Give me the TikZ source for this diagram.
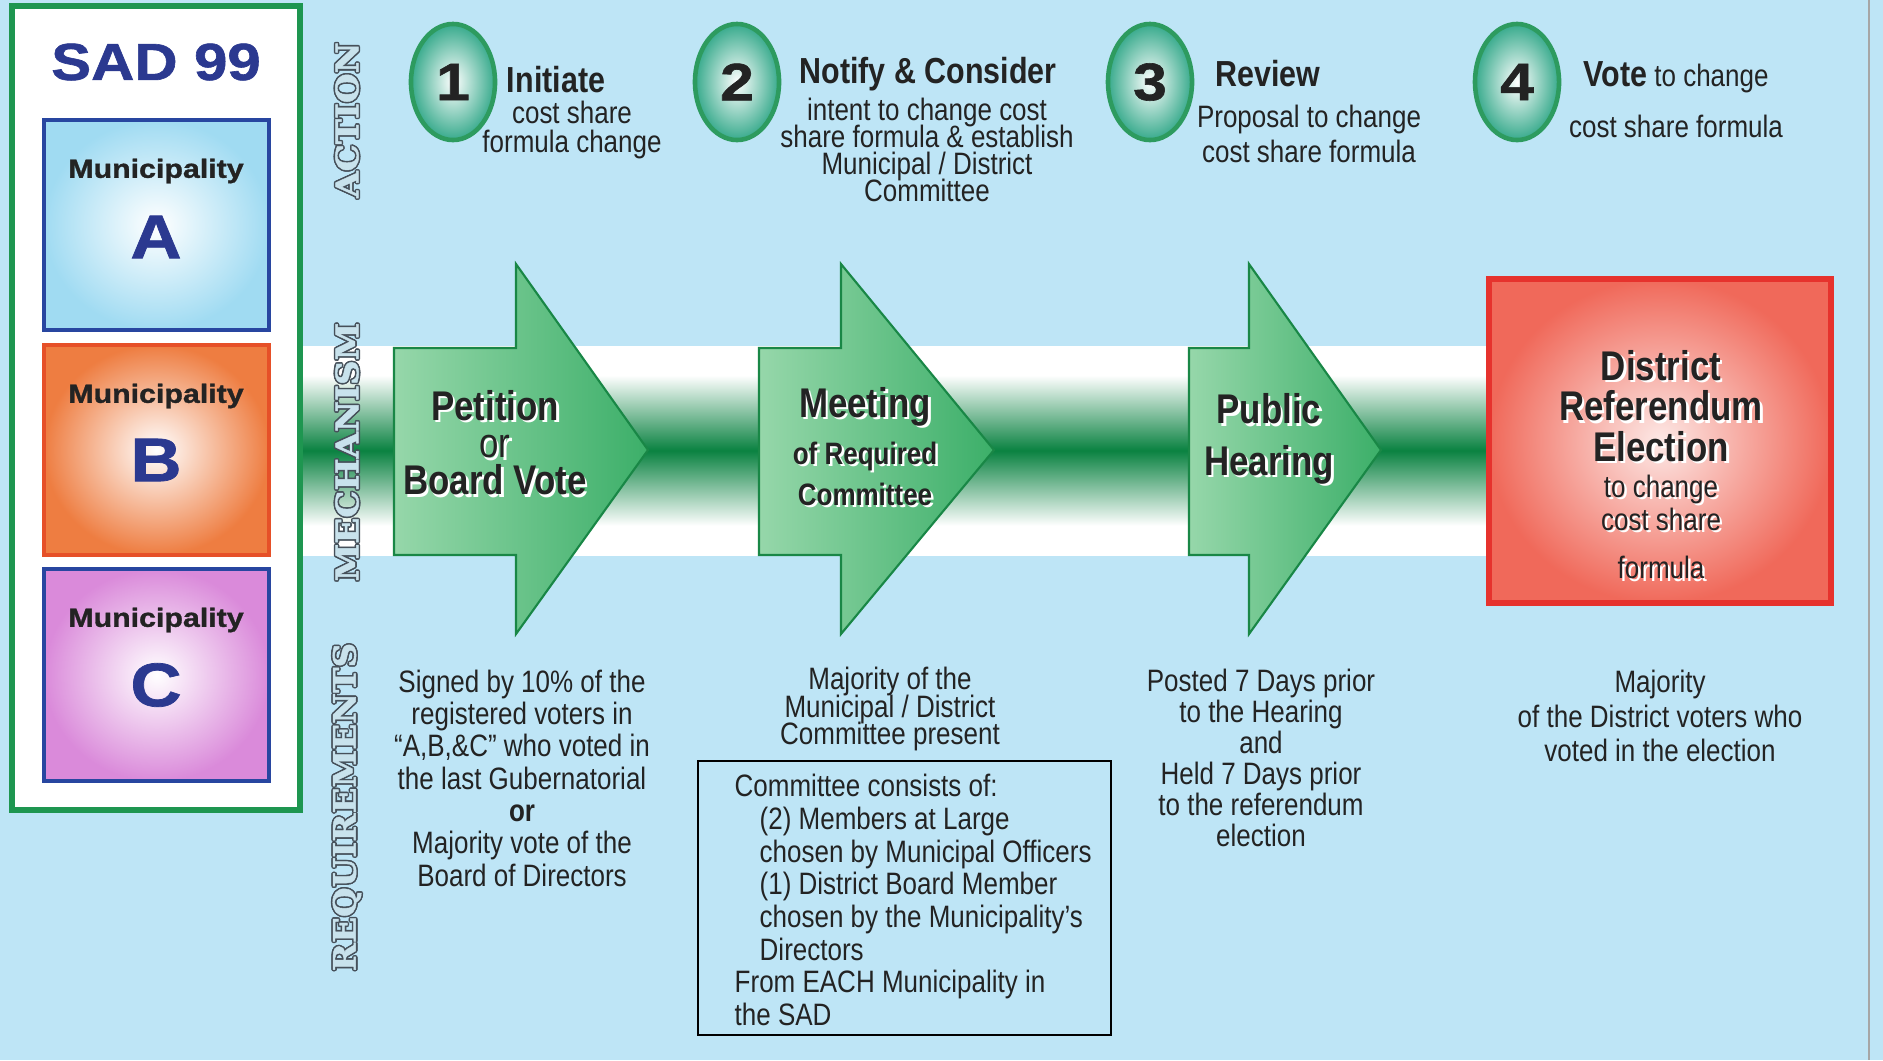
\documentclass[tikz,border=0pt]{standalone}
\usepackage{fontspec}
\setmainfont{Liberation Sans}[FakeStretch=0.84]
\newfontfamily\widefont{Liberation Sans}[FakeStretch=1.15,FakeBold=1.2]
\newfontfamily\sidefont{DejaVu Serif}[FakeStretch=1.1,FakeBold=1.5]
\usepackage{tikz}
\usetikzlibrary{shapes.geometric}

\definecolor{bgblue}{RGB}{190,229,246}
\definecolor{ink}{RGB}{35,35,35}
\definecolor{navy}{RGB}{43,57,144}
\definecolor{panelgreen}{RGB}{30,150,80}
\definecolor{muniblue}{RGB}{40,70,160}
\definecolor{muniAfill}{RGB}{160,219,242}
\definecolor{muniBedge}{RGB}{230,80,40}
\definecolor{muniBfill}{RGB}{238,125,65}
\definecolor{muniCfill}{RGB}{218,138,218}
\definecolor{rededge}{RGB}{230,50,45}
\definecolor{redfill}{RGB}{240,105,90}
\definecolor{ovalgreen}{RGB}{45,155,95}
\definecolor{ovalteal}{RGB}{55,170,140}
\definecolor{arrowedge}{RGB}{25,135,70}
\definecolor{arrowlight}{RGB}{150,215,170}
\definecolor{arrowgreen}{RGB}{60,175,105}
\definecolor{bandgreen}{RGB}{10,130,65}
\definecolor{sidegray}{RGB}{70,80,90}
\definecolor{hollowfill}{RGB}{200,226,236}

\pgfdeclareverticalshading{greenband}{100bp}{color(0bp)=(white); color(25bp)=(white);
  color(32bp)=(white); color(50bp)=(bandgreen); color(68bp)=(white); color(75bp)=(white);
  color(100bp)=(white)}

% keep the baselines fixed even when lines nearly touch
\newcommand{\tightlines}{\lineskiplimit=-10pt\relax}
% white drop shadow behind a line of text
\newcommand{\shadowed}[1]{\makebox[0pt][l]{\hspace{0.7pt}\raisebox{-0.7pt}{\color{white}#1}}#1}
% outlined capitals for the row labels
\newcommand{\hollowcopy}[3]{\rlap{\hspace*{#1}\raisebox{#2}{\textcolor{sidegray}{#3}}}}
\newcommand{\hollow}[1]{\hollowcopy{-.45pt}{0pt}{#1}\hollowcopy{.45pt}{0pt}{#1}%
  \hollowcopy{0pt}{.45pt}{#1}\hollowcopy{0pt}{-.45pt}{#1}%
  \hollowcopy{-.32pt}{.32pt}{#1}\hollowcopy{.32pt}{.32pt}{#1}%
  \hollowcopy{-.32pt}{-.32pt}{#1}\hollowcopy{.32pt}{-.32pt}{#1}%
  \textcolor{hollowfill}{#1}}

\begin{document}
\begin{tikzpicture}[x=0.01cm,y=-0.01cm,
	body/.style={font=\fontsize{8.8}{#1}\selectfont\tightlines, align=center, inner sep=0pt, text=ink},
	body/.default=9.2,
	heading/.style={font=\bfseries\fontsize{10.3}{11}\selectfont, inner sep=0pt, text=ink},
	mech/.style={font=\bfseries\fontsize{11.8}{#1}\selectfont\tightlines, align=center, inner sep=0pt, text=ink},
	mech/.default=10.6,
	numoval/.style={ellipse, draw=ovalgreen, line width=1.3pt, inner color=white, outer color=ovalteal,
		minimum width=0.84cm, minimum height=1.16cm, inner sep=0pt, text=ink,
		font=\widefont\bfseries\fontsize{15}{15}\selectfont},
	munibox/.style={line width=1.2pt, inner color=white},
	muniname/.style={font=\widefont\bfseries\fontsize{7.5}{8}\selectfont, text=ink, inner sep=0pt},
	munilet/.style={font=\widefont\bfseries\fontsize{17.5}{18}\selectfont, text=navy, inner sep=0pt},
	arrowbox/.style={draw=arrowedge, line width=0.6pt, left color=arrowlight, right color=arrowgreen},
	sidetext/.style={rotate=90, inner sep=0pt, font=\sidefont\bfseries\fontsize{8.8}{9}\selectfont}]
	\useasboundingbox (0,0) rectangle (1883,1060);

	%background
	\fill[bgblue] (0,0) rectangle (1883,1060);
	\draw[gray!70, line width=0.4pt] (1869,0) -- (1869,1060);

	%mechanism band
	\shade[shading=greenband] (300,346) rectangle (1489,555);

	%left panel
	\draw[panelgreen, line width=1.5pt, fill=white] (12,6) rectangle (300,810);
	\node[font=\widefont\bfseries\fontsize{14.8}{15}\selectfont, text=navy, inner sep=0pt] (sad) at (156,62) {SAD 99};
	\shade[munibox, draw=muniblue, outer color=muniAfill] (44,120) rectangle (269,330);
	\shade[munibox, draw=muniBedge, outer color=muniBfill] (44,345) rectangle (269,555);
	\shade[munibox, draw=muniblue, outer color=muniCfill] (44,569) rectangle (269,781);
	\node[muniname] (muniA) at (156,171) {Municipality};
	\node[munilet] (letA) at (156,237) {A};
	\node[muniname] (muniB) at (156,396) {Municipality};
	\node[munilet] (letB) at (156,460) {B};
	\node[muniname] (muniC) at (156,620) {Municipality};
	\node[munilet] (letC) at (156,685) {C};

	%row labels
	\node[sidetext] (action) at (347,120) {\hollow{ACTION}};
	\node[sidetext] (mechanism) at (347,452) {\hollow{MECHANISM}};
	\node[sidetext] (requirements) at (347,807) {\hollow{REQUIREMENTS}};

	%action row
	\node[numoval] (one) at (453,82) {1};
	\node[heading] (initiate) at (556,80) {Initiate};
	\node[body=8.2] (initiatetxt) at (572,130) {cost share\\formula change};
	%
	\node[numoval] (two) at (737,82) {2};
	\node[heading] (notify) at (928,74) {Notify \& Consider};
	\node[body=7.6] (notifytxt) at (927,150) {intent to change cost\\share formula \& establish\\Municipal / District\\Committee};
	%
	\node[numoval] (three) at (1150,82) {3};
	\node[heading] (review) at (1268,74) {Review};
	\node[body=9.9] (reviewtxt) at (1309,134) {Proposal to change\\cost share formula};
	%
	\node[numoval] (four) at (1517,82) {4};
	\node[body] (vote) at (1676,77) {{\bfseries\fontsize{10.3}{11}\selectfont Vote} to change};
	\node[body] (votetxt) at (1676,126) {cost share formula};

	%mechanism arrows
	\draw[arrowbox] (394,348) -- (516,348) -- (516,264) -- (648,450) -- (516,634) -- (516,555) -- (394,555) -- cycle;
	\draw[arrowbox] (759,348) -- (841,348) -- (841,264) -- (994,450) -- (841,634) -- (841,555) -- (759,555) -- cycle;
	\draw[arrowbox] (1189,348) -- (1249,348) -- (1249,264) -- (1381,450) -- (1249,634) -- (1249,555) -- (1189,555) -- cycle;
	\shade[draw=rededge, line width=1.5pt, inner color=white!85!redfill, outer color=redfill] (1489,279) rectangle (1831,603);

	%mechanism labels
	\node[mech] (petition) at (495,444) {\shadowed{Petition}\\\shadowed{\mdseries or}\\\shadowed{Board Vote}};
	\node[mech] (meeting) at (865,408) {\shadowed{Meeting}};
	\node[mech, font=\bfseries\fontsize{8.8}{11.6}\selectfont] (required) at (865,475) {\shadowed{of Required}\\\shadowed{Committee}};
	\node[mech=14.7] (hearing) at (1269,440) {\shadowed{Public}\\\shadowed{Hearing}};
	\node[mech=11.5] (referendum) at (1661,407) {\shadowed{District}\\\shadowed{Referendum}\\\shadowed{Election}};
	\node[body=9.4] (referendumtxt) at (1661,504) {\shadowed{to change}\\\shadowed{cost share}};
	\node[body] (formula) at (1661,569) {\shadowed{formula}};

	%requirements
	\node[body=9.2] (petitionreq) at (522,778) {Signed by 10\% of the\\registered voters in\\“A,B,\&C” who voted in\\the last Gubernatorial\\\textbf{or}\\Majority vote of the\\Board of Directors};
	\node[body=7.9] (meetingreq) at (890,709) {Majority of the\\Municipal / District\\Committee present};
	\draw[black, line width=0.6pt] (698,761) rectangle (1111,1035);
	\node[body=9.3, align=left, anchor=west] (committee) at (734,900) {Committee consists of:\\
		\hspace*{0.25cm}(2) Members at Large\\
		\hspace*{0.25cm}chosen by Municipal Officers\\
		\hspace*{0.25cm}(1) District Board Member\\
		\hspace*{0.25cm}chosen by the Municipality’s\\
		\hspace*{0.25cm}Directors\\
		From EACH Municipality in\\
		the SAD};
	\node[body=8.8] (hearingreq) at (1261,758) {Posted 7 Days prior\\to the Hearing\\and\\Held 7 Days prior\\to the referendum\\election};
	\node[body=9.9] (electionreq) at (1660,716) {Majority\\of the District voters who\\voted in the election};

	%\draw[help lines] (0,0) grid[step=100] (1883,1060);
\end{tikzpicture}
\end{document}
